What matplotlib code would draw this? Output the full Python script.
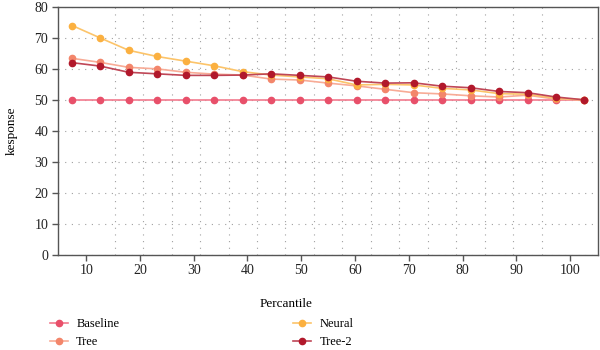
import matplotlib
matplotlib.use("Agg")
import matplotlib.pyplot as plt
import numpy as np
from matplotlib.ticker import MultipleLocator

plt.rcParams['font.family'] = ['Liberation Serif', 'DejaVu Serif']

percentile = [7.4, 12.6, 17.9, 23.2, 28.5, 33.8, 39.1, 44.4, 49.7, 55.0,
              60.3, 65.6, 70.9, 76.2, 81.5, 86.8, 92.1, 97.4, 102.6]
baseline = [50] * 19
tree = [63.4, 62.1, 60.5, 60.0, 58.9, 58.3, 58.0, 56.7, 56.4, 55.4,
        54.5, 53.4, 52.3, 51.9, 51.3, 50.9, 51.5, 50.2, 50.0]
neural = [74.0, 70.0, 66.0, 64.0, 62.5, 61.0, 59.1, 58.0, 57.4, 56.8,
          54.8, 55.0, 54.8, 53.7, 53.2, 52.0, 51.8, 50.5, 50.0]
tree2 = [62.0, 60.9, 58.9, 58.4, 57.9, 57.9, 58.0, 58.4, 57.9, 57.4,
         56.0, 55.4, 55.5, 54.4, 53.9, 52.7, 52.3, 50.9, 50.0]

series = [
    ("Baseline", baseline, "#f27a8e", "#e8506a"),
    ("Tree", tree, "#f8ab96", "#f3866b"),
    ("Neural", neural, "#fcc46a", "#fbb040"),
    ("Tree-2", tree2, "#bf4656", "#b1182b"),
]

fig = plt.figure(figsize=(6, 3.5), dpi=100)
ax = fig.add_axes([58/600, 1-254.5/350, 540/600, 247.5/350])

for name, vals, lc, mc in series:
    ax.plot(percentile, vals, color=lc, lw=1.2, marker='o', ms=4.5,
            mfc=mc, mec=mc, label=name)

ax.set_xlim(4.75, 105.2)
ax.set_ylim(0, 80)
ax.yaxis.set_major_locator(MultipleLocator(10))
ax.set_xticks(np.linspace(10, 100, 10))
ax.set_xticks(np.linspace(10, 100, 18), minor=True)
ax.tick_params(axis='x', which='minor', length=0)
ax.tick_params(which='major', direction='out', length=4, width=1,
               color='#555555', labelsize=10, labelcolor='#222222', pad=3)
ax.grid(True, axis='x', which='minor', linestyle=(0, (1, 5)), color='#a0a0a0', lw=0.8)
ax.grid(True, axis='y', which='major', linestyle=(0, (1, 5)), color='#a0a0a0', lw=0.8)
ax.grid(False, axis='x', which='major')
for s in ax.spines.values():
    s.set_color('#555555')
    s.set_linewidth(1.0)
ax.set_axisbelow(True)

ax.set_xlabel("Percantile", fontsize=9.5)
ax.set_ylabel("kesponse", fontsize=9.5)
ax.xaxis.set_label_coords((286-58)/540, (254.5-298)/247.5)
ax.yaxis.set_label_coords((18-58)/540, 0.5)

leg = fig.legend(loc='upper left', bbox_to_anchor=(50/600, 1-318/350), ncol=2,
                 frameon=False, fontsize=9, handlelength=1.45, handletextpad=0.65,
                 columnspacing=13.9, borderpad=0, borderaxespad=0, labelspacing=0.5)

fig.savefig("out.png", dpi=100)
